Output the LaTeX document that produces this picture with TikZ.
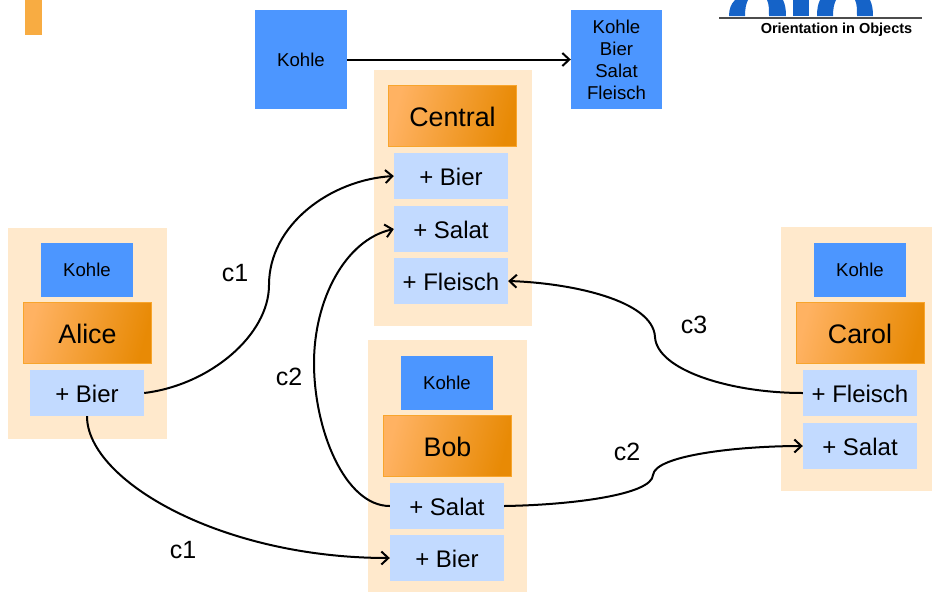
\documentclass[tikz,border=0pt]{standalone}
\usepackage{fontspec}
\setmainfont{Liberation Sans}
\usetikzlibrary{arrows.meta}
\definecolor{panelcol}{HTML}{FFE9CC}
\definecolor{stockcol}{HTML}{4C96FF}
\definecolor{methodcol}{HTML}{C2DAFF}
\definecolor{tabcol}{HTML}{F8AC42}
\definecolor{logocol}{HTML}{1563C8}
\definecolor{actorlight}{HTML}{FFB262}
\definecolor{actordark}{HTML}{E88A05}
\definecolor{actoredge}{HTML}{F8A52C}
\tikzset{
	panel/.style={fill=panelcol, inner sep=0, anchor=north west},
	stock/.style={fill=stockcol, inner sep=0, align=center, font=\fontsize{18.6}{22}\selectfont},
	actor/.style={draw=actoredge, line width=0.8pt, left color=actorlight, right color=actordark, shading angle=75, inner sep=0, minimum width=128pt, minimum height=61pt, text height=20.5pt, text depth=0pt, font=\fontsize{26.8}{30}\selectfont},
	method/.style={fill=methodcol, inner sep=0, minimum width=114pt, minimum height=46pt, text height=18pt, text depth=0pt, font=\fontsize{24}{28}\selectfont},
	chan/.style={font=\fontsize{25}{28}\selectfont, inner sep=0},
	flow/.style={line width=2pt, -{Straight Barb[length=7pt,width=13pt,line width=2pt]}}
}
\begin{document}
\begin{tikzpicture}[x=1pt, y=-1pt]
		%%%%% START %%%%%
		\useasboundingbox (0, 0) rectangle (932, 592);
		\fill[tabcol] (25, 0) rectangle (42, 35);
		
		% logo
		\fill[logocol] (729, 16) .. controls (729, 9) and (731, 4) .. (735, 0) -- (748, 0) .. controls (746, 4) and (745, 9) .. (745, 16) -- cycle;
		\fill[logocol] (769, 16) .. controls (769, 9) and (769, 4) .. (767, 0) -- (783, 0) .. controls (785, 4) and (786, 9) .. (786, 16) -- cycle;
		\fill[logocol] (793, 0) rectangle (809, 16);
		\fill[logocol] (817, 16) .. controls (817, 9) and (818, 4) .. (820, 0) -- (836, 0) .. controls (834, 4) and (833, 9) .. (833, 16) -- cycle;
		\fill[logocol] (857, 16) .. controls (857, 9) and (857, 4) .. (855, 0) -- (870, 0) .. controls (872, 4) and (873, 9) .. (873, 16) -- cycle;
		\draw[black!70, line width=1.2pt] (719, 18) -- (922, 18);
		\node[inner sep=0, font=\fontsize{14.5}{17}\selectfont\bfseries] (logotext) at (836.5, 30) {Orientation in Objects};
		
		% top row
		\node[stock, minimum width=92pt, minimum height=98.5pt] (kohleA) at (301, 59.5) {Kohle};
		\node[stock, minimum width=91pt, minimum height=98.5pt] (kohleB) at (616.5, 59.5) {Kohle\\Bier\\Salat\\Fleisch};
		
		% Central
		\node[panel, minimum width=158.5pt, minimum height=256pt] (centralPanel) at (373.5, 70) {};
		\node[actor] (central) at (452.5, 116) {Central};
		\node[method] (centralBier) at (451, 176) {+ Bier};
		\node[method] (centralSalat) at (451, 229) {+ Salat};
		\node[method] (centralFleisch) at (451, 281) {+ Fleisch};
		
		% Alice
		\node[panel, minimum width=159pt, minimum height=211.5pt] (alicePanel) at (8, 227.5) {};
		\node[stock, minimum width=92pt, minimum height=54pt] (aliceKohle) at (87, 269.5) {Kohle};
		\node[actor] (alice) at (87.5, 333) {Alice};
		\node[method] (aliceBier) at (87, 393) {+ Bier};
		
		% Bob
		\node[panel, minimum width=159pt, minimum height=252pt] (bobPanel) at (368, 340) {};
		\node[stock, minimum width=92pt, minimum height=54pt] (bobKohle) at (447, 382.5) {Kohle};
		\node[actor] (bob) at (447.5, 446) {Bob};
		\node[method] (bobSalat) at (447, 506) {+ Salat};
		\node[method] (bobBier) at (447, 558) {+ Bier};
		
		% Carol
		\node[panel, minimum width=151pt, minimum height=264pt] (carolPanel) at (781, 227) {};
		\node[stock, minimum width=92pt, minimum height=54pt] (carolKohle) at (860, 269.5) {Kohle};
		\node[actor] (carol) at (860, 333) {Carol};
		\node[method] (carolFleisch) at (860, 393) {+ Fleisch};
		\node[method] (carolSalat) at (860, 446) {+ Salat};
		
		% bends
		\coordinate (bendA) at (269, 285);
		\coordinate (bendB) at (314, 363);
		\coordinate (bendC) at (655, 337);
		\coordinate (bendD) at (653, 475);
		
		\draw[flow] (kohleA.east) -- (kohleB.west);
		\draw[flow] (aliceBier.east) .. controls (210, 385) and (269, 335) .. (bendA) .. controls (269, 225) and (330, 180) .. (centralBier.west);
		\draw[flow] (aliceBier.south) .. controls (87, 480) and (220, 558) .. (bobBier.west);
		\draw[flow] (bobSalat.west) .. controls (345, 506) and (314, 430) .. (bendB) .. controls (314, 300) and (345, 240) .. (centralSalat.west);
		\draw[flow] (bobSalat.east) .. controls (570, 505) and (652, 495) .. (bendD) .. controls (655, 455) and (740, 446) .. (carolSalat.west);
		\draw[flow] (carolFleisch.west) .. controls (730, 393) and (657, 370) .. (bendC) .. controls (653, 300) and (570, 283) .. (centralFleisch.east);
		
		\node[chan] (labelA) at (235, 273) {c1};
		\node[chan] (labelB) at (289, 377) {c2};
		\node[chan] (labelC) at (183, 550) {c1};
		\node[chan] (labelD) at (694, 325) {c3};
		\node[chan] (labelE) at (627, 452) {c2};
		%%%%% END %%%%%
	\end{tikzpicture}
\end{document}
